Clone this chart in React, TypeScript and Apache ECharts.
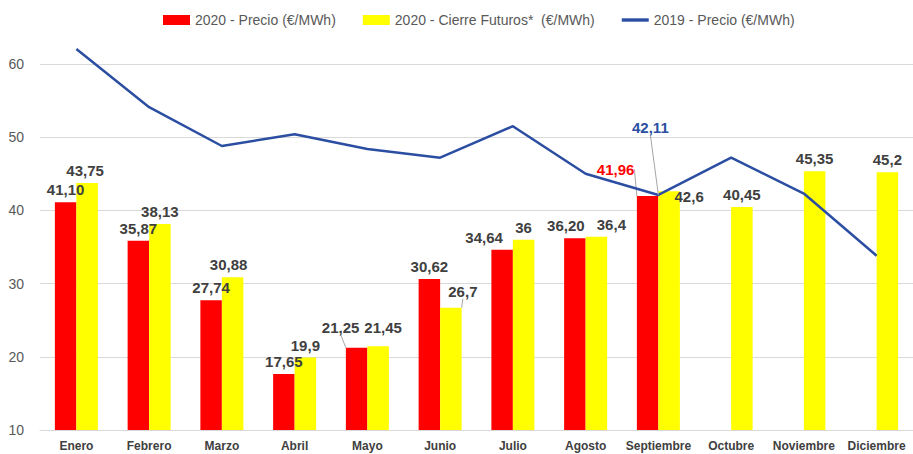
import React, { useEffect, useRef } from 'react';
import * as echarts from 'echarts';

const categories = ['Enero', 'Febrero', 'Marzo', 'Abril', 'Mayo', 'Junio', 'Julio', 'Agosto', 'Septiembre', 'Octubre', 'Noviembre', 'Diciembre'];
const precio2020: (number | null)[] = [41.10, 35.87, 27.74, 17.65, 21.25, 30.62, 34.64, 36.20, 41.96, null, null, null];
const futuros2020 = [43.75, 38.13, 30.88, 19.9, 21.45, 26.7, 36, 36.4, 42.6, 40.45, 45.35, 45.2];
const precio2019 = [62.05, 54.1, 48.8, 50.4, 48.4, 47.2, 51.5, 45.0, 42.11, 47.2, 42.3, 33.8];
const yMin = 10;
const yMax = 60;
const yStep = 10;

const seriesNames = ['2020 - Precio (€/MWh)', '2020 - Cierre Futuros*  (€/MWh)', '2019 - Precio (€/MWh)'];

const RED = '#FF0000';
const YELLOW = '#FFFF00';
const BLUE = '#2B4EA2';
const LABEL = '#404040';
const FONT = "'Liberation Sans', Arial, sans-serif";

const fmt2 = (v: number) => v.toFixed(2).replace('.', ',');
const fmtRaw = (v: number) => String(v).replace('.', ',');

// label displacement (pixels) per category index
const redMoves: Record<number, { dx: number; dy: number }> = {
  4: { dx: -16, dy: -8 },
  6: { dx: -18, dy: 0 },
  7: { dx: -9, dy: 0 },
  8: { dx: -32, dy: -14 },
};
const yellowMoves: Record<number, { dx: number; dy: number }> = {
  0: { dx: -2, dy: 0 },
  2: { dx: -4, dy: 0 },
  4: { dx: 5, dy: -6 },
  5: { dx: 12, dy: -4 },
  7: { dx: 15, dy: 0 },
  8: { dx: 20, dy: 18 },
};
const lineMoves: Record<number, { dx: number; dy: number }> = { 8: { dx: -8, dy: -55 } };
const redGuides = [4, 8];
const yellowGuides = [5];

const guide = { show: true, lineStyle: { color: '#A6A6A6', width: 1 } };

export default function App() {
  const ref = useRef<HTMLDivElement>(null);
  useEffect(() => {
    if (!ref.current) return;
    const chart = echarts.init(ref.current, null, { renderer: 'svg' });

    const redData = precio2020.map((v, i) => {
      if (v == null) return null;
      const item: any = { value: v };
      if (redGuides.includes(i)) item.labelLine = guide;
      if (i === 8) item.label = { color: RED };
      return item;
    });
    const yellowData = futuros2020.map((v, i) => {
      const item: any = { value: v };
      if (yellowGuides.includes(i)) item.labelLine = guide;
      return item;
    });
    const lineData = precio2019.map((v, i) => {
      const item: any = { value: v };
      if (i === 8) {
        item.label = { show: true, position: 'top', color: BLUE, fontSize: 15, fontWeight: 'bold', fontFamily: FONT, formatter: (p: any) => fmt2(p.value) };
        item.labelLine = guide;
      }
      return item;
    });

    const labelBase = {
      show: true,
      position: 'top',
      distance: 5,
      color: LABEL,
      fontSize: 15,
      fontWeight: 'bold',
      fontFamily: FONT,
    };

    chart.setOption({
      animation: false,
      backgroundColor: '#FFFFFF',
      textStyle: { fontFamily: FONT },
      legend: {
        top: 8,
        left: 158,
        itemWidth: 27,
        itemHeight: 10,
        itemGap: 27,
        textStyle: { color: '#595959', fontSize: 14, fontFamily: FONT },
        data: [
          { name: seriesNames[0], icon: 'rect' },
          { name: seriesNames[1], icon: 'rect' },
          { name: seriesNames[2], icon: 'path://M0,0 L24,0 L24,3 L0,3 Z' },
        ],
      },
      grid: { left: 40, top: 64, width: 884, bottom: 24, containLabel: false },
      xAxis: {
        type: 'category',
        data: categories,
        axisLine: { lineStyle: { color: '#D9D9D9', width: 1 } },
        axisTick: { show: false },
        axisLabel: {
          color: LABEL,
          fontSize: 12,
          fontWeight: 'bold',
          fontFamily: FONT,
          margin: 10,
          interval: 0,
        },
      },
      yAxis: {
        type: 'value',
        min: yMin,
        max: yMax,
        interval: yStep,
        axisLine: { show: false },
        axisTick: { show: false },
        axisLabel: { color: '#595959', fontSize: 14, fontFamily: FONT, margin: 16 },
        splitLine: { lineStyle: { color: '#D9D9D9', width: 1 } },
      },
      series: [
        {
          name: seriesNames[0],
          type: 'bar',
          data: redData,
          barWidth: 21.5,
          barGap: '0%',
          itemStyle: { color: RED },
          label: { ...labelBase, formatter: (p: any) => fmt2(p.value) },
          labelLine: { show: false },
          labelLayout: (p: any) => redMoves[p.dataIndex] || {},
        },
        {
          name: seriesNames[1],
          type: 'bar',
          data: yellowData,
          barWidth: 21.5,
          barGap: '0%',
          itemStyle: { color: YELLOW },
          label: { ...labelBase, formatter: (p: any) => fmtRaw(p.value) },
          labelLine: { show: false },
          labelLayout: (p: any) => yellowMoves[p.dataIndex] || {},
        },
        {
          name: seriesNames[2],
          type: 'line',
          data: lineData,
          showSymbol: true,
          symbol: 'circle',
          symbolSize: 0.01,
          clip: false,
          lineStyle: { color: BLUE, width: 2.5 },
          itemStyle: { color: BLUE },
          label: { show: false },
          labelLine: { show: false },
          labelLayout: (p: any) => lineMoves[p.dataIndex] || {},
          z: 3,
        },
      ],
    });
    return () => chart.dispose();
  }, []);
  return <div ref={ref} style={{ width: 913, height: 454, position: 'absolute', left: 0, top: 0 }} />;
}
